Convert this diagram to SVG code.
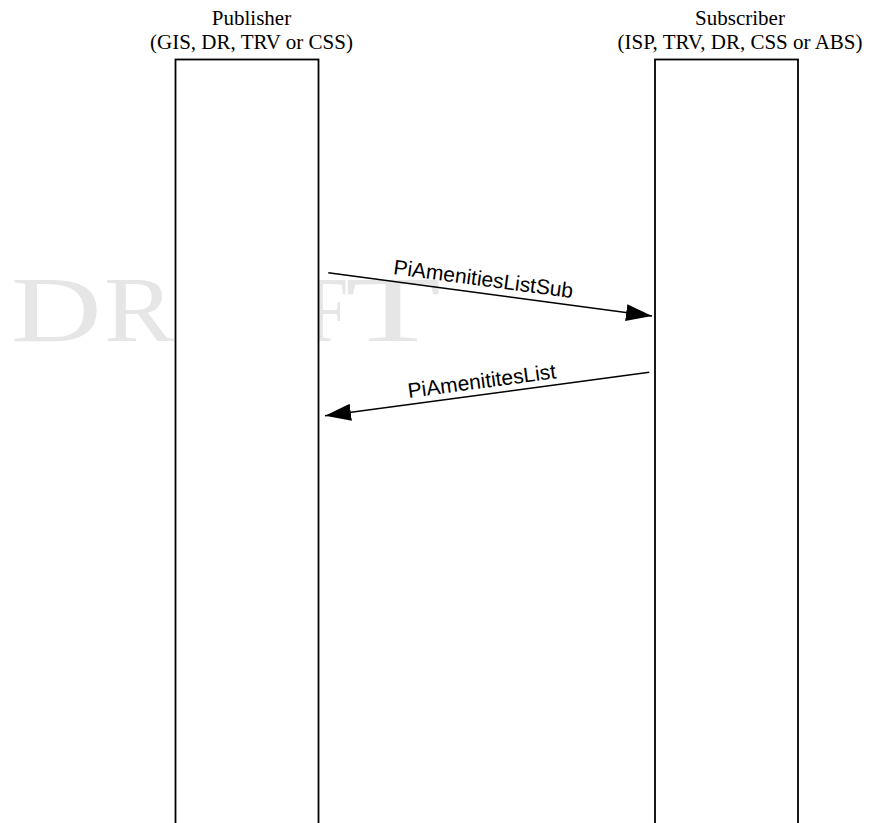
<svg xmlns="http://www.w3.org/2000/svg" width="874" height="823" viewBox="0 0 874 823">
  <style>
    .wm { font-family: "Liberation Serif", "Times New Roman", serif; font-size: 94px; fill: #e6e6e6; }
    .hdr { font-family: "Liberation Serif", "Times New Roman", serif; font-size: 21px; fill: #000; text-anchor: middle; }
    .life { fill: #fff; stroke: #000; stroke-width: 1.8; }
    .msg { stroke: #000; stroke-width: 1.6; fill: none; }
    .lbl { font-family: "Liberation Sans", Arial, sans-serif; font-size: 21px; fill: #000; text-anchor: middle; }
  </style>
  <defs>
    <marker id="ah" markerUnits="userSpaceOnUse" markerWidth="27" markerHeight="17" refX="26" refY="8.5" orient="auto">
      <path d="M0,0 L26,8.5 L0,17 Z" fill="#000"/>
    </marker>
  </defs>
  <rect width="874" height="823" fill="#fff"/>
  <g id="watermark">
    <text class="wm" x="11" y="341" textLength="90.7" lengthAdjust="spacingAndGlyphs">D</text>
    <text class="wm" x="104" y="341" textLength="70" lengthAdjust="spacingAndGlyphs">R</text>
    <text class="wm" x="200" y="341" textLength="80" lengthAdjust="spacingAndGlyphs">A</text>
    <text class="wm" x="308" y="341" textLength="40" lengthAdjust="spacingAndGlyphs">F</text>
    <text class="wm" x="345" y="341" textLength="96" lengthAdjust="spacingAndGlyphs">T</text>
  </g>
  <g id="publisher">
    <rect class="life" x="175.5" y="59.5" width="143" height="780"/>
    <text class="hdr" x="251.5" y="24.5">Publisher</text>
    <text class="hdr" x="251.5" y="48.5">(GIS, DR, TRV or CSS)</text>
  </g>
  <g id="subscriber">
    <rect class="life" x="655" y="59.5" width="143" height="780"/>
    <text class="hdr" x="740" y="24.5">Subscriber</text>
    <text class="hdr" x="740" y="48.5">(ISP, TRV, DR, CSS or ABS)</text>
  </g>
  <g id="connectors">
    <g id="msg1">
      <line class="msg" x1="328.3" y1="272.7" x2="652" y2="316" marker-end="url(#ah)"/>
      <text class="lbl" transform="translate(482.5,286) rotate(7.63)">PiAmenitiesListSub</text>
    </g>
    <g id="msg2">
      <line class="msg" x1="649.3" y1="372.3" x2="325" y2="415.7" marker-end="url(#ah)"/>
      <text class="lbl" transform="translate(482.7,388.1) rotate(-7.63)">PiAmenititesList</text>
    </g>
  </g>
</svg>
